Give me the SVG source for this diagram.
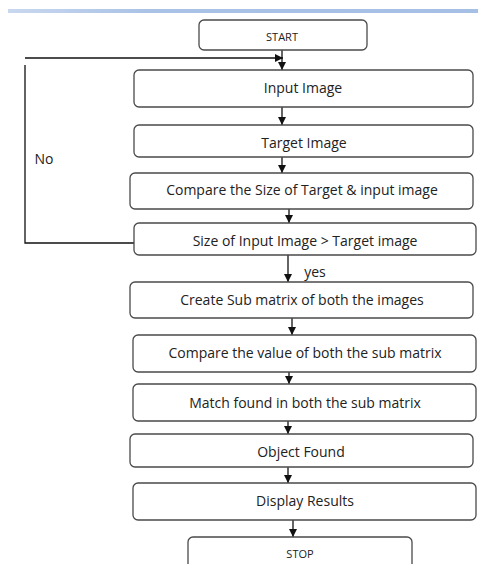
<svg xmlns="http://www.w3.org/2000/svg" width="478" height="564" viewBox="0 0 478 564">
<defs>
<linearGradient id="band" x1="0" y1="0" x2="1" y2="0">
<stop offset="0" stop-color="#c9d8ef"/>
<stop offset="0.3" stop-color="#a9c2e6"/>
<stop offset="1" stop-color="#a5bfe5"/>
</linearGradient>
<marker id="ah" viewBox="0 0 10 10" refX="10" refY="5" markerWidth="8" markerHeight="8" markerUnits="userSpaceOnUse" orient="auto">
<path d="M0,0 L10,5 L0,10 Z" fill="#111"/>
</marker>
</defs>
<style>
.box{fill:#fff;stroke:#4a4a4a;stroke-width:1.3}
.t{font-family:"Open Sans","Liberation Sans",sans-serif;font-size:14px;fill:#222;text-anchor:middle;dominant-baseline:middle}
.s{font-size:11px}
.c{stroke:#111;stroke-width:1.3;fill:none}
.a{marker-end:url(#ah)}
</style>
<rect x="8" y="9" width="470" height="4" fill="url(#band)"/>
<g id="connectors">
<path class="c a" d="M25,58 L283,58"/>
<path class="c" d="M25,65 L25,243 L134,243"/>
<path class="c a" d="M282,50 L282,70"/>
<path class="c a" d="M282,107 L282,125"/>
<path class="c a" d="M282,157 L282,173"/>
<path class="c a" d="M289,209 L289,223"/>
<path class="c a" d="M288,255 L288,282"/>
<path class="c a" d="M292,318 L292,335"/>
<path class="c a" d="M289,372 L289,384"/>
<path class="c a" d="M288,421 L288,434"/>
<path class="c a" d="M288,467 L288,483"/>
<path class="c a" d="M293,520 L293,537"/>
<text class="t" x="44" y="160">No</text>
<text class="t" x="315" y="273">yes</text>
</g>
<g id="start"><rect class="box" x="199" y="20" width="168" height="30" rx="5"/><text class="t s" x="282" y="38">START</text></g>
<g id="input"><rect class="box" x="134" y="70" width="339" height="37" rx="5"/><text class="t" x="303" y="89">Input Image</text></g>
<g id="target"><rect class="box" x="134" y="125" width="339" height="32" rx="5"/><text class="t" x="304" y="144">Target Image</text></g>
<g id="compareSize"><rect class="box" x="130" y="173" width="343" height="36" rx="5"/><text class="t" x="302" y="191">Compare the Size of Target &amp; input image</text></g>
<g id="sizeCheck"><rect class="box" x="134" y="223" width="342" height="32" rx="5"/><text class="t" x="305" y="242">Size of Input Image &gt; Target image</text></g>
<g id="createSub"><rect class="box" x="130" y="282" width="343" height="36" rx="5"/><text class="t" x="302" y="301">Create Sub matrix of both the images</text></g>
<g id="compareValue"><rect class="box" x="133" y="335" width="343" height="37" rx="5"/><text class="t" x="305" y="354">Compare the value of both the sub matrix</text></g>
<g id="match"><rect class="box" x="133" y="384" width="343" height="37" rx="5"/><text class="t" x="305" y="404">Match found in both the sub matrix</text></g>
<g id="object"><rect class="box" x="130" y="434" width="343" height="33" rx="5"/><text class="t" x="301" y="453">Object Found</text></g>
<g id="display"><rect class="box" x="133" y="483" width="343" height="37" rx="5"/><text class="t" x="305" y="502">Display Results</text></g>
<g id="stop"><rect class="box" x="188" y="537" width="224" height="40" rx="5"/><text class="t s" x="300" y="555">STOP</text></g>
</svg>
